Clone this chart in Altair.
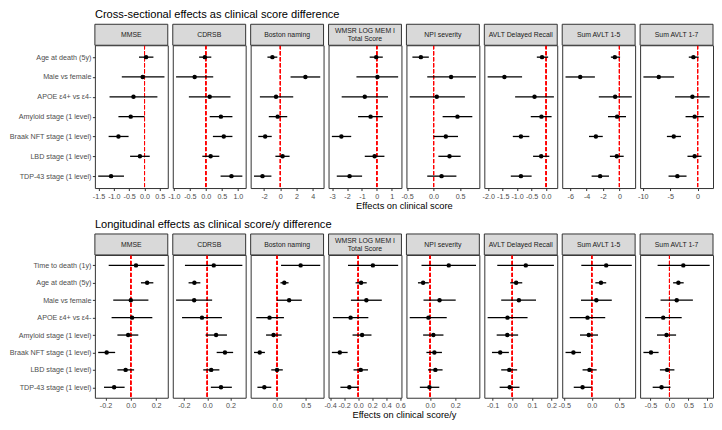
import altair as alt
import pandas as pd

# ---------------- data ----------------
MEASURES = ["MMSE", "CDRSB", "Boston naming", "WMSR LOG MEM I Total Score",
            "NPI severity", "AVLT Delayed Recall", "Sum AVLT 1-5", "Sum AVLT 1-7"]
STRIP_LABELS = ["MMSE", "CDRSB", "Boston naming", "WMSR LOG MEM I\nTotal Score",
                "NPI severity", "AVLT Delayed Recall", "Sum AVLT 1-5", "Sum AVLT 1-7"]

CS_TERMS = ["Age at death (5y)", "Male vs female", "APOE \u03b54+ vs \u03b54-",
            "Amyloid stage (1 level)", "Braak NFT stage (1 level)",
            "LBD stage (1 level)", "TDP-43 stage (1 level)"]
LG_TERMS = ["Time to death (1y)"] + CS_TERMS

CS_TITLE = "Cross-sectional effects as clinical score difference"
LG_TITLE = "Longitudinal effects as clinical score/y difference"
CS_XTITLE = "Effects on clinical score"
LG_XTITLE = "Effects on clinical score/y"

# Cross-sectional: estimate, lower, upper (order of CS_TERMS)
CS_EST = {
    "MMSE": [0.05, -0.06, -0.36, -0.45, -0.85, -0.15, -1.09],
    "CDRSB": [-0.03, -0.35, 0.12, 0.47, 0.56, 0.15, 0.80],
    "Boston naming": [-0.98, 3.09, -0.53, -0.33, -1.87, 0.28, -2.20],
    "WMSR LOG MEM I Total Score": [-0.04, 0.04, -0.81, -0.42, -2.38, -0.15, -1.83],
    "NPI severity": [-0.24, 0.33, 0.06, 0.45, 0.23, 0.30, 0.15],
    "AVLT Delayed Recall": [-0.14, -1.44, -0.40, -0.16, -0.87, -0.17, -0.87],
    "Sum AVLT 1-5": [-0.56, -4.78, -0.52, -0.28, -2.87, -0.32, -2.35],
    "Sum AVLT 1-7": [-0.77, -7.08, -0.95, -0.54, -4.35, -0.54, -3.69],
}
CS_LO = {
    "MMSE": [-0.18, -0.74, -1.14, -0.85, -1.17, -0.47, -1.51],
    "CDRSB": [-0.21, -0.93, -0.53, 0.12, 0.22, -0.11, 0.46],
    "Boston naming": [-1.59, 1.26, -2.52, -1.42, -2.72, -0.61, -3.25],
    "WMSR LOG MEM I Total Score": [-0.48, -1.37, -2.36, -1.26, -3.02, -0.81, -2.69],
    "NPI severity": [-0.40, -0.12, -0.45, 0.17, 0.00, 0.09, -0.12],
    "AVLT Delayed Recall": [-0.32, -2.02, -1.07, -0.53, -1.15, -0.45, -1.22],
    "Sum AVLT 1-5": [-1.04, -6.57, -2.51, -1.39, -3.71, -1.16, -3.39],
    "Sum AVLT 1-7": [-1.61, -9.88, -4.11, -2.20, -5.60, -1.85, -5.30],
}
CS_HI = {
    "MMSE": [0.29, 0.65, 0.42, 0.00, -0.52, 0.17, -0.67],
    "CDRSB": [0.17, 0.23, 0.77, 0.83, 0.83, 0.42, 1.14],
    "Boston naming": [-0.37, 4.92, 1.59, 0.85, -1.06, 1.14, -1.10],
    "WMSR LOG MEM I Total Score": [0.40, 1.43, 0.75, 0.40, -1.72, 0.51, -0.99],
    "NPI severity": [-0.09, 0.80, 0.59, 0.73, 0.46, 0.51, 0.43],
    "AVLT Delayed Recall": [0.07, -0.83, 0.27, 0.19, -0.58, 0.11, -0.50],
    "Sum AVLT 1-5": [0.08, -2.99, 1.51, 0.80, -2.03, 0.52, -1.27],
    "Sum AVLT 1-7": [0.18, -4.29, 2.20, 1.13, -3.04, 0.71, -2.02],
}

# Longitudinal: estimate, lower, upper (order of LG_TERMS)
LG_EST = {
    "MMSE": [0.041, 0.129, 0.000, 0.010, -0.021, -0.191, -0.041, -0.132],
    "CDRSB": [0.056, -0.110, -0.112, -0.045, 0.076, 0.152, 0.034, 0.118],
    "Boston naming": [0.41, 0.126, 0.21, -0.13, -0.06, -0.30, 0.00, -0.22],
    "WMSR LOG MEM I Total Score": [0.21, 0.042, 0.117, -0.108, 0.056, -0.262, 0.037, -0.126],
    "NPI severity": [0.148, -0.055, 0.075, -0.013, 0.026, 0.034, 0.042, -0.005],
    "AVLT Delayed Recall": [0.069, 0.020, 0.034, -0.024, -0.025, -0.061, -0.015, -0.013],
    "Sum AVLT 1-5": [0.262, 0.167, 0.083, -0.077, -0.054, -0.333, -0.042, -0.167],
    "Sum AVLT 1-7": [0.365, 0.235, 0.191, -0.165, -0.078, -0.487, -0.061, -0.209],
}
LG_LO = {
    "MMSE": [-0.175, 0.080, -0.139, -0.152, -0.106, -0.258, -0.106, -0.212],
    "CDRSB": [-0.191, -0.160, -0.267, -0.216, -0.014, 0.081, -0.034, 0.031],
    "Boston naming": [0.07, 0.06, 0.00, -0.36, -0.19, -0.40, -0.10, -0.34],
    "WMSR LOG MEM I Total Score": [-0.145, -0.037, -0.103, -0.36, -0.08, -0.375, -0.066, -0.253],
    "NPI severity": [-0.068, -0.096, -0.052, -0.161, -0.055, -0.029, -0.016, -0.081],
    "AVLT Delayed Recall": [-0.076, -0.010, -0.056, -0.125, -0.079, -0.103, -0.056, -0.064],
    "Sum AVLT 1-5": [-0.19, 0.065, -0.196, -0.40, -0.214, -0.476, -0.167, -0.327],
    "Sum AVLT 1-7": [-0.313, 0.096, -0.235, -0.643, -0.33, -0.687, -0.252, -0.443],
}
LG_HI = {
    "MMSE": [0.266, 0.178, 0.139, 0.170, 0.059, -0.124, 0.026, -0.049],
    "CDRSB": [0.301, -0.059, 0.042, 0.126, 0.169, 0.222, 0.104, 0.211],
    "Boston naming": [0.75, 0.20, 0.43, 0.12, 0.08, -0.21, 0.10, -0.10],
    "WMSR LOG MEM I Total Score": [0.57, 0.122, 0.337, 0.145, 0.19, -0.15, 0.14, 0.005],
    "NPI severity": [0.364, -0.010, 0.203, 0.132, 0.106, 0.094, 0.099, 0.073],
    "AVLT Delayed Recall": [0.212, 0.051, 0.121, 0.078, 0.030, -0.017, 0.025, 0.037],
    "Sum AVLT 1-5": [0.726, 0.262, 0.363, 0.244, 0.113, -0.196, 0.089, -0.006],
    "Sum AVLT 1-7": [1.06, 0.374, 0.617, 0.322, 0.174, -0.287, 0.130, 0.026],
}

# Tick labels (major breaks) per panel
CS_TICKS = {
    "MMSE": [-1.5, -1.0, -0.5, 0.0, 0.5],
    "CDRSB": [-1.0, -0.5, 0.0, 0.5, 1.0],
    "Boston naming": [-2, 0, 2, 4],
    "WMSR LOG MEM I Total Score": [-3, -2, -1, 0, 1],
    "NPI severity": [-0.5, 0.0, 0.5],
    "AVLT Delayed Recall": [-2.0, -1.5, -1.0, -0.5, 0.0],
    "Sum AVLT 1-5": [-6, -4, -2, 0],
    "Sum AVLT 1-7": [-10, -5, 0],
}
LG_TICKS = {
    "MMSE": [-0.2, 0.0, 0.2],
    "CDRSB": [-0.2, 0.0, 0.2],
    "Boston naming": [0.0, 0.5],
    "WMSR LOG MEM I Total Score": [-0.4, -0.2, 0.0, 0.2, 0.4, 0.6],
    "NPI severity": [0.0, 0.2],
    "AVLT Delayed Recall": [-0.1, 0.0, 0.1, 0.2],
    "Sum AVLT 1-5": [-0.5, 0.0, 0.5],
    "Sum AVLT 1-7": [-0.5, 0.0, 0.5, 1.0],
}

# ---------------- style ----------------
FONT = "Liberation Sans"
W, H = 73, 143
STRIP_H = 21
GRID = "#ebebeb"
DARK = "#333333"
LABEL = "#4d4d4d"
AX_FS = 7.2
STRIP_LH = 8


def make_panel(i, m, terms, est, lo, hi, ticks, xtitle):
    df = pd.DataFrame({"term": terms, "est": est[m], "lo": lo[m], "hi": hi[m]})
    lo_v = min(min(lo[m]), 0.0)
    hi_v = max(max(hi[m]), 0.0)
    pad = 0.05 * (hi_v - lo_v)
    dom = [lo_v - pad, hi_v + pad]

    majors = ticks[m]
    step = majors[1] - majors[0]
    dec = 0 if all(float(t).is_integer() for t in majors) else 1
    cands = [majors[0] - step] + majors
    minors = [c + step / 2 for c in cands]
    vals = sorted(round(v, 6) for v in majors + minors if dom[0] <= v <= dom[1])
    minor_test = f"abs(datum.value/{step} - round(datum.value/{step})) > 0.01"

    x_axis = alt.Axis(
        values=vals,
        labelExpr=(f"{minor_test} ? '' : "
                   f"replace(format(datum.value, '.{dec}f'), '\u2212', '-')"),
        gridColor=GRID,
        gridWidth={"condition": {"test": minor_test, "value": 0.5}, "value": 1},
        tickOpacity={"condition": {"test": minor_test, "value": 0}, "value": 1},
        tickColor=DARK, tickSize=2.5, tickWidth=1,
        labelColor=LABEL, labelFontSize=AX_FS, labelPadding=1.5,
        labelFlush=False, labelOverlap=False,
        domain=False,
        title=xtitle if i == 3 else None,
        titleX=W + 2.5, titleAlign="center",
        titleFontSize=9.3, titleFontWeight="normal", titleColor="black",
        titlePadding=2,
    )
    x_scale = alt.Scale(domain=dom, nice=False, zero=False)

    if i == 0:
        y_axis = alt.Axis(title=None, labelFontSize=AX_FS, labelColor=LABEL,
                          tickColor=DARK, tickSize=2.5, labelPadding=1.5,
                          domain=False, gridColor=GRID, labelLimit=200)
    else:
        y_axis = alt.Axis(title=None, labels=False, ticks=False, domain=False,
                          gridColor=GRID)
    y_enc = alt.Y("term:N", scale=alt.Scale(type="point", domain=terms, padding=0.6),
                  axis=y_axis)

    label = STRIP_LABELS[i]
    n_lines = label.count("\n") + 1
    strip_df = pd.DataFrame({"label": [label]})
    strip_rect = alt.Chart(strip_df).mark_rect(
        fill="#d9d9d9", stroke=DARK, strokeWidth=1
    ).encode(x=alt.value(0), x2=alt.value(W), y=alt.value(-STRIP_H), y2=alt.value(0))
    strip_txt = alt.Chart(strip_df).mark_text(
        fontSize=6.9, color="#1a1a1a", lineBreak="\n", lineHeight=STRIP_LH,
        align="center", baseline="middle"
    ).encode(
        x=alt.value(W / 2),
        y=alt.value(-STRIP_H / 2 + 0.5 - (n_lines - 1) * STRIP_LH / 2),
        text="label:N",
    )

    base = alt.Chart(df)
    zero = base.mark_rule(color="#ff0000", strokeDash=[4, 2], strokeWidth=0.9,
                          opacity=0.9).encode(
        x=alt.datum(0, scale=x_scale, axis=x_axis)
    )
    ci = base.mark_rule(color="black", strokeWidth=1.3).encode(
        x=alt.X("lo:Q", scale=x_scale, axis=x_axis), x2="hi:Q", y=y_enc
    )
    pts = base.mark_circle(size=20, color="black", opacity=1).encode(
        x=alt.X("est:Q", scale=x_scale, axis=x_axis), y=y_enc
    )
    return alt.layer(zero, ci, pts, strip_rect, strip_txt).properties(width=W, height=H)


def make_row(terms, est, lo, hi, ticks, title, xtitle):
    panels = [make_panel(i, m, terms, est, lo, hi, ticks, xtitle)
              for i, m in enumerate(MEASURES)]
    return alt.hconcat(
        *panels, spacing=5, bounds="flush",
        title=alt.TitleParams(text=title, anchor="start", frame="group", offset=3,
                              fontSize=11.1, fontWeight="normal", color="black",
                              font=FONT),
    )


row1 = make_row(CS_TERMS, CS_EST, CS_LO, CS_HI, CS_TICKS, CS_TITLE, CS_XTITLE)
row2 = make_row(LG_TERMS, LG_EST, LG_LO, LG_HI, LG_TICKS, LG_TITLE, LG_XTITLE)

chart = alt.vconcat(row1, row2, spacing=7).properties(
    padding={"left": 0, "top": 0, "right": 0, "bottom": 0},
    background="white",
).configure(font=FONT).configure_view(
    stroke=DARK, strokeWidth=1, fill="white"
)

chart.save("out.html", embed_options={"renderer": "svg", "actions": False})
